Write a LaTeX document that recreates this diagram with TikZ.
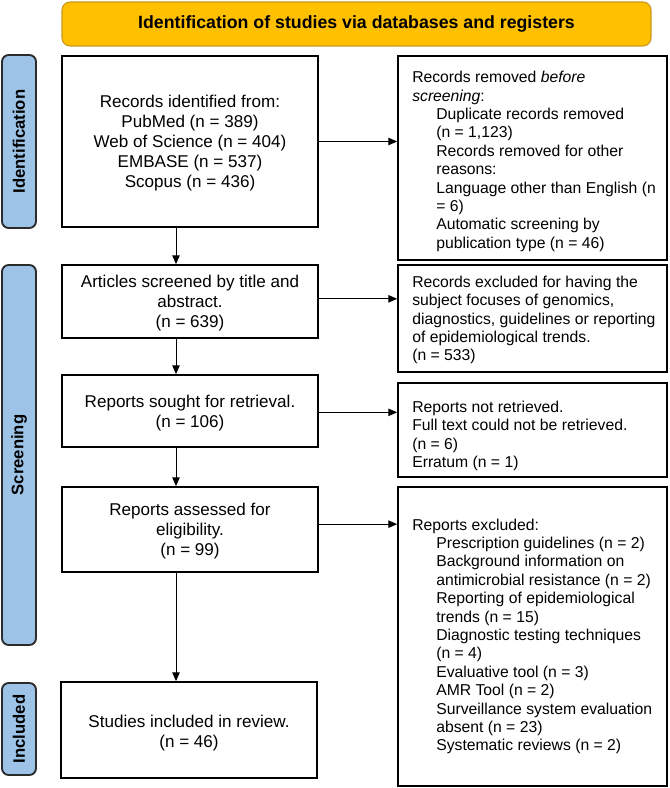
\documentclass[tikz,border=0pt]{standalone}
\usepackage{fontspec}
\setmainfont{Liberation Sans}
\usetikzlibrary{arrows.meta}
\definecolor{gold}{HTML}{FFC000}
\definecolor{golddark}{HTML}{C8981A}
\definecolor{lblue}{HTML}{9DC3E6}
\definecolor{lborder}{HTML}{2B2B2B}
\newcommand{\ind}{\hspace*{18pt}}
\begin{document}
\begin{tikzpicture}[x=0.75pt,y=-0.75pt,
  box/.style={draw=black, line width=1.3pt, fill=white, inner sep=0pt},
  lbl/.style={draw=lborder, fill=lblue, rounded corners=5pt, line width=1.4pt, inner sep=0pt,
              font=\fontsize{12.5pt}{14pt}\selectfont\bfseries},
  banner/.style={draw=golddark, fill=gold, rounded corners=6pt, line width=0.8pt, inner sep=0pt,
              font=\fontsize{13.3pt}{15pt}\selectfont\bfseries},
  body/.style={font=\fontsize{12.8pt}{15pt}\selectfont, align=center, inner sep=0pt},
  side/.style={font=\fontsize{11.8pt}{13.8pt}\selectfont, align=left, inner sep=0pt, anchor=west},
  arr/.style={-{Triangle[length=6.5pt,width=5.5pt]}, line width=0.7pt}]
\useasboundingbox (0,0) rectangle (669,788);

% banner
\node[banner, minimum width=441.75pt, minimum height=33pt] (ban) at (356.5,24)
  {Identification of studies via databases and registers};

% side labels
\node[lbl, rotate=90, minimum width=129.75pt, minimum height=25.5pt] (L1) at (19,141.5) {Identification};
\node[lbl, rotate=90, minimum width=285pt, minimum height=25.5pt] (L2) at (19,455) {Screening};
\node[lbl, rotate=90, minimum width=69pt, minimum height=25.5pt] (L3) at (19,729) {Included};

% left boxes
\node[box, minimum width=192pt, minimum height=128.25pt] (B1) at (190,141.5) {};
\node[box, minimum width=192pt, minimum height=54.75pt] (B2) at (190,301.5) {};
\node[box, minimum width=192pt, minimum height=54pt] (B3) at (190,411) {};
\node[box, minimum width=192pt, minimum height=63.75pt] (B4) at (190,529.5) {};
\node[box, minimum width=192pt, minimum height=72pt] (B5) at (189,730) {};

% right boxes
\node[box, minimum width=201.75pt, minimum height=153pt] (R1) at (532.5,158) {};
\node[box, minimum width=201.75pt, minimum height=80.25pt] (R2) at (532.5,318.5) {};
\node[box, minimum width=201.75pt, minimum height=70.5pt] (R3) at (532.5,430) {};
\node[box, minimum width=201.75pt, minimum height=224.25pt] (R4) at (532.5,636.5) {};

% left texts
\node[body] (T1) at (190,143) {Records identified from:\\PubMed (n = 389)\\Web of Science (n = 404)\\EMBASE (n = 537)\\Scopus (n = 436)};
\node[body] (T2) at (190,303) {Articles screened by title and\\abstract.\\(n = 639)};
\node[body] (T3) at (190,413) {Reports sought for retrieval.\\(n = 106)};
\node[body] (T4) at (190,531) {Reports assessed for\\eligibility.\\(n = 99)};
\node[body] (T5) at (189,733) {Studies included in review.\\(n = 46)};

% right texts
\node[side] (RT1) at (412,161.5) {Records removed \textit{before}\\
\textit{screening}:\\
\ind Duplicate records removed\\
\ind (n = 1,123)\\
\ind Records removed for other\\
\ind reasons:\\
\ind Language other than English (n\\
\ind = 6)\\
\ind Automatic screening by\\
\ind publication type (n = 46)};
\node[side] (RT2) at (412,320) {Records excluded for having the\\subject focuses of genomics,\\diagnostics, guidelines or reporting\\of epidemiological trends.\\(n = 533)};
\node[side] (RT3) at (412,436) {Reports not retrieved.\\Full text could not be retrieved.\\(n = 6)\\Erratum (n = 1)};
\node[side] (RT4) at (412,636.5) {Reports excluded:\\
\ind Prescription guidelines (n = 2)\\
\ind Background information on\\
\ind antimicrobial resistance (n = 2)\\
\ind Reporting of epidemiological\\
\ind trends (n = 15)\\
\ind Diagnostic testing techniques\\
\ind (n = 4)\\
\ind Evaluative tool (n = 3)\\
\ind AMR Tool (n = 2)\\
\ind Surveillance system evaluation\\
\ind absent (n = 23)\\
\ind Systematic reviews (n = 2)};

% vertical arrows
\draw[arr] ([xshift=-10.5pt]B1.south) -- ([xshift=-10.5pt]B2.north);
\draw[arr] ([xshift=-10.5pt]B2.south) -- ([xshift=-10.5pt]B3.north);
\draw[arr] ([xshift=-10.5pt]B3.south) -- ([xshift=-10.5pt]B4.north);
\draw[arr] ([xshift=-10.5pt]B4.south) -- ([xshift=-9.75pt]B5.north);

% horizontal arrows
\draw[arr] (B1.east) -- (B1.east -| R1.west);
\draw[arr] ([yshift=2pt]B2.east) -- ([yshift=2pt]B2.east -| R2.west);
\draw[arr] ([yshift=-1pt]B3.east) -- ([yshift=-1pt]B3.east -| R3.west);
\draw[arr] ([yshift=4pt]B4.east) -- ([yshift=4pt]B4.east -| R4.west);
\end{tikzpicture}
\end{document}
